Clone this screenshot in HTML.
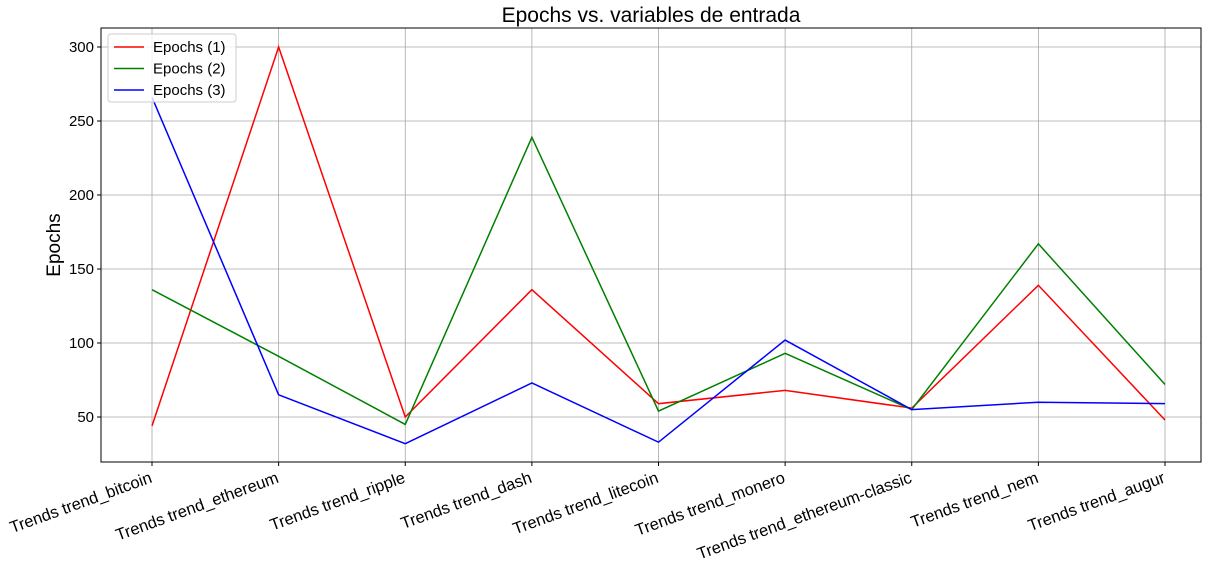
<!DOCTYPE html>
<html><head><meta charset="utf-8"><style>
body{margin:0;background:#fff;}
svg{font-family:"Liberation Sans","DejaVu Sans",sans-serif;}
</style></head><body>
<svg id="chart" width="1227" height="566"></svg>
<script>
const categories=["Trends trend_bitcoin","Trends trend_ethereum","Trends trend_ripple","Trends trend_dash","Trends trend_litecoin","Trends trend_monero","Trends trend_ethereum-classic","Trends trend_nem","Trends trend_augur"];
const epochs1=[44,300,50,136,59,68,56,139,48];
const epochs2=[136,91,45,239,54,93,55,167,72];
const epochs3=[266,65,32,73,33,102,55,60,59];
const yTicks=[50,100,150,200,250,300];
const seriesNames=["Epochs (1)","Epochs (2)","Epochs (3)"];
const seriesColors=["#ff0000","#008000","#0000ff"];

const NS="http://www.w3.org/2000/svg";
const svg=document.getElementById('chart');
const L=101,R=1201,T=28,B=462;
const x=i=>152+i*(1165-152)/(categories.length-1);
const y=v=>417-(v-50)*1.48;
function mk(tag,attrs,parent){const e=document.createElementNS(NS,tag);for(const k in attrs)e.setAttribute(k,attrs[k]);(parent||svg).appendChild(e);return e;}

yTicks.forEach(v=>{
 const g=mk('line',{x1:L,x2:R,y1:y(v),y2:y(v),stroke:'#a8a8a8','stroke-width':0.8});
 
 
 mk('line',{x1:L-4,x2:L,y1:y(v),y2:y(v),stroke:'#000'});
 const t=mk('text',{x:L-7,y:y(v)+5,'text-anchor':'end','font-size':15});
 t.textContent=v;
 
 
});
categories.forEach((c,i)=>{
 const g=mk('line',{x1:x(i),x2:x(i),y1:T,y2:B,stroke:'#a8a8a8','stroke-width':0.8});
 
 
 mk('line',{x1:x(i),x2:x(i),y1:B,y2:B+4,stroke:'#000'});
 const ax=x(i)+1, ay=B+20;
 const t=mk('text',{x:ax,y:ay,'text-anchor':'end','font-size':16.5,transform:`rotate(-20 ${ax} ${ay})`});
 t.textContent=c;
 
 
});
const frame=mk('rect',{x:L,y:T,width:R-L,height:B-T,fill:'none',stroke:'#000','stroke-width':1});



[epochs1,epochs2,epochs3].forEach((s,k)=>{
 const p=mk('polyline',{points:s.map((v,i)=>x(i)+','+y(v)).join(' '),fill:'none',stroke:seriesColors[k],'stroke-width':1.5});
 
 
});

const title=mk('text',{x:(L+R)/2,y:22,'text-anchor':'middle','font-size':21});
title.textContent="Epochs vs. variables de entrada";


const yl=mk('text',{x:60,y:(T+B)/2,'text-anchor':'middle','font-size':19,transform:`rotate(-90 60 ${(T+B)/2})`});
yl.textContent="Epochs";



const lg=mk('g',{});


mk('rect',{x:108,y:34,width:128,height:68,rx:3,fill:'#fff','fill-opacity':0.8,stroke:'#ccc'},lg);
seriesNames.forEach((n,k)=>{
 const yy=47+k*21.5;
 mk('line',{x1:114,x2:144,y1:yy,y2:yy,stroke:seriesColors[k],'stroke-width':1.5},lg);
 const t=mk('text',{x:153,y:yy+5,'font-size':15},lg);
 t.textContent=n;
 
 
});
</script>
</body></html>
